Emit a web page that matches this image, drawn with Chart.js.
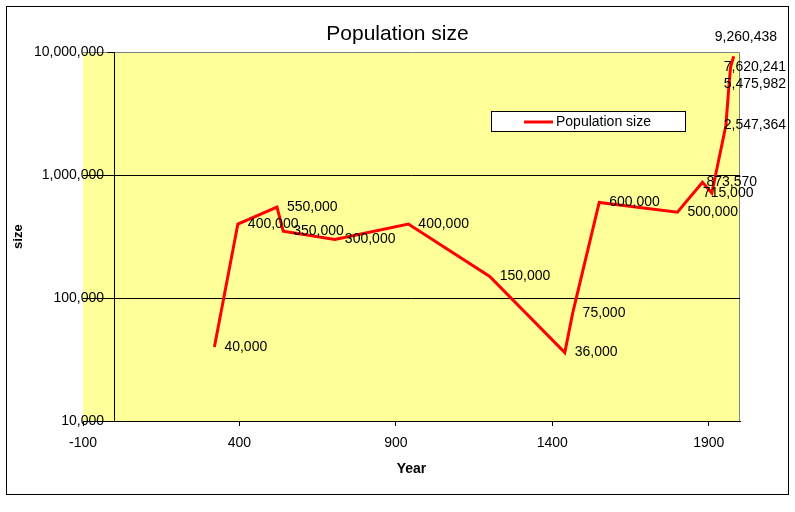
<!DOCTYPE html>
<html><head><meta charset="utf-8">
<script src="https://cdn.jsdelivr.net/npm/chart.js@4.4.1/dist/chart.umd.min.js"></script>
<style>html,body{margin:0;padding:0;background:#fff}canvas{display:block}</style>
</head><body>
<canvas id="c" width="795" height="512"></canvas>
<script>
// ---- data ----
const years = [320, 395, 520, 540, 705, 940, 1200, 1440, 1465, 1550, 1800, 1880, 1910, 1955, 1965, 1970, 1980];
const population = [40000, 400000, 550000, 350000, 300000, 400000, 150000, 36000, 75000, 600000, 500000, 873570, 715000, 2547364, 5475982, 7620241, 9260438];
const xTickValues = [-100, 400, 900, 1400, 1900];
const yTickValues = [10000, 100000, 1000000, 10000000];
const seriesName = 'Population size';
const chartTitle = 'Population size';
const xTitle = 'Year';
const yTitle = 'size';

// ---- styling ----
const FONT = 'Liberation Sans, Arial, sans-serif';
const labelShift = {11: {dx: 4, dy: 0}, 12: {dx: -9, dy: 0}, 16: {dx: -19, dy: -19}};
const fmt = v => Number(v).toLocaleString('en-US');

Chart.defaults.font.family = FONT;
Chart.defaults.color = '#000';

// width of the widest y tick label, so labels can end just left of the x=0 axis line
const mctx = document.createElement('canvas').getContext('2d');
mctx.font = '14px ' + FONT;
const widestY = Math.max(...yTickValues.map(v => mctx.measureText(fmt(v)).width));

const plotBg = {
  id: 'plotBg',
  beforeDraw(chart) {
    const {ctx, chartArea: a} = chart;
    ctx.save();
    ctx.fillStyle = '#fff';
    ctx.fillRect(0, 0, chart.width, chart.height);
    ctx.fillStyle = '#FFFF99';
    ctx.fillRect(a.left, a.top, a.right - a.left, a.bottom - a.top);
    ctx.strokeStyle = '#808080';
    ctx.lineWidth = 1;
    ctx.beginPath();
    ctx.moveTo(Math.round(a.left), Math.round(a.top) + 0.5);
    ctx.lineTo(Math.round(a.right) - 0.5, Math.round(a.top) + 0.5);
    ctx.lineTo(Math.round(a.right) - 0.5, Math.round(a.bottom));
    ctx.stroke();
    ctx.restore();
  }
};

const zeroAxisTicks = {
  id: 'zeroAxisTicks',
  beforeDatasetsDraw(chart) {
    const {ctx, scales: {x, y}} = chart;
    const x0 = Math.round(x.getPixelForValue(0)) + 0.5;
    ctx.save();
    ctx.strokeStyle = '#000';
    ctx.lineWidth = 1;
    yTickValues.forEach(v => {
      const py = Math.round(y.getPixelForValue(v)) + 0.5;
      ctx.beginPath();
      ctx.moveTo(x0 - 7, py);
      ctx.lineTo(x0, py);
      ctx.stroke();
    });
    ctx.restore();
  }
};

const dataLabels = {
  id: 'dataLabels',
  afterDatasetsDraw(chart) {
    const {ctx} = chart;
    const meta = chart.getDatasetMeta(0);
    ctx.save();
    ctx.font = '14px ' + FONT;
    ctx.fillStyle = '#000';
    ctx.textBaseline = 'middle';
    ctx.textAlign = 'left';
    meta.data.forEach((pt, i) => {
      const txt = fmt(population[i]);
      const s = labelShift[i] || {dx: 10, dy: 0};
      const w = ctx.measureText(txt).width;
      let tx = pt.x + s.dx;
      if (tx + w > 786) tx = 786 - w;
      ctx.fillText(txt, tx, pt.y + s.dy);
    });
    ctx.restore();
  }
};

const boxLegend = {
  id: 'boxLegend',
  afterDraw(chart) {
    const {ctx} = chart;
    const ds = chart.data.datasets[0];
    ctx.save();
    ctx.fillStyle = '#fff';
    ctx.fillRect(491, 111, 194, 20);
    ctx.strokeStyle = '#000';
    ctx.lineWidth = 1;
    ctx.strokeRect(491.5, 111.5, 194, 20);
    ctx.strokeStyle = ds.borderColor;
    ctx.lineWidth = 3;
    ctx.beginPath();
    ctx.moveTo(524, 122);
    ctx.lineTo(553, 122);
    ctx.stroke();
    ctx.font = '14px ' + FONT;
    ctx.fillStyle = '#000';
    ctx.textBaseline = 'middle';
    ctx.fillText(ds.label, 556, 122);
    // outer chart border
    ctx.strokeStyle = '#000';
    ctx.lineWidth = 1;
    ctx.strokeRect(6.5, 6.5, 782, 488);
    ctx.restore();
  }
};

new Chart(document.getElementById('c'), {
  type: 'line',
  data: {
    datasets: [{
      label: seriesName,
      data: years.map((yr, i) => ({x: yr, y: population[i]})),
      borderColor: '#FF0000',
      backgroundColor: '#FF0000',
      borderWidth: 3,
      pointRadius: 0,
      tension: 0,
      clip: 6
    }]
  },
  options: {
    responsive: false,
    animation: false,
    devicePixelRatio: 1,
    layout: {padding: {left: 8, right: 8, top: 8, bottom: 8}},
    plugins: {
      legend: {display: false},
      tooltip: {enabled: false},
      title: {
        display: true,
        text: chartTitle,
        color: '#000',
        font: {size: 21, weight: 'normal', family: FONT},
        padding: {top: 14, bottom: 5}
      }
    },
    scales: {
      x: {
        type: 'linear',
        min: -100,
        max: 2000,
        afterBuildTicks: s => { s.ticks = [-100, 0].concat(xTickValues.slice(1)).map(v => ({value: v})); },
        afterFit: s => { s.height = 83; },
        ticks: {
          font: {size: 14},
          color: '#000',
          padding: 9,
          maxRotation: 0,
          autoSkip: false,
          callback: v => (xTickValues.includes(v) ? String(v) : '')
        },
        grid: {
          color: c => (c.tick && c.tick.value === 0 ? '#000' : 'rgba(0,0,0,0)'),
          tickColor: c => (c.tick && c.tick.value === 0 ? 'rgba(0,0,0,0)' : '#000'),
          tickLength: 5,
          drawTicks: true
        },
        border: {display: true, color: '#000', width: 1},
        title: {display: true, text: xTitle, color: '#000', font: {size: 14, weight: 'bold'}, padding: {top: 0, bottom: 26}}
      },
      y: {
        type: 'logarithmic',
        min: 10000,
        max: 10000000,
        afterBuildTicks: s => { s.ticks = yTickValues.map(v => ({value: v})); },
        afterFit: s => { s.width = 75; },
        ticks: {
          font: {size: 14},
          color: '#000',
          mirror: true,
          crossAlign: 'far',
          padding: 21 - widestY,
          autoSkip: false,
          callback: v => fmt(v)
        },
        grid: {
          color: c => (c.tick && (c.tick.value === 1000000 || c.tick.value === 100000) ? '#000' : 'rgba(0,0,0,0)'),
          drawTicks: false
        },
        border: {display: false},
        title: {display: true, text: yTitle, color: '#000', font: {size: 13, weight: 'bold'}, padding: {top: 3, bottom: 0}}
      },
      yR: {
        type: 'linear',
        position: 'right',
        display: true,
        grid: {display: false},
        ticks: {display: false},
        border: {display: false},
        afterFit: s => { s.width = 47; }
      }
    }
  },
  plugins: [plotBg, zeroAxisTicks, dataLabels, boxLegend]
});
</script>
</body></html>
